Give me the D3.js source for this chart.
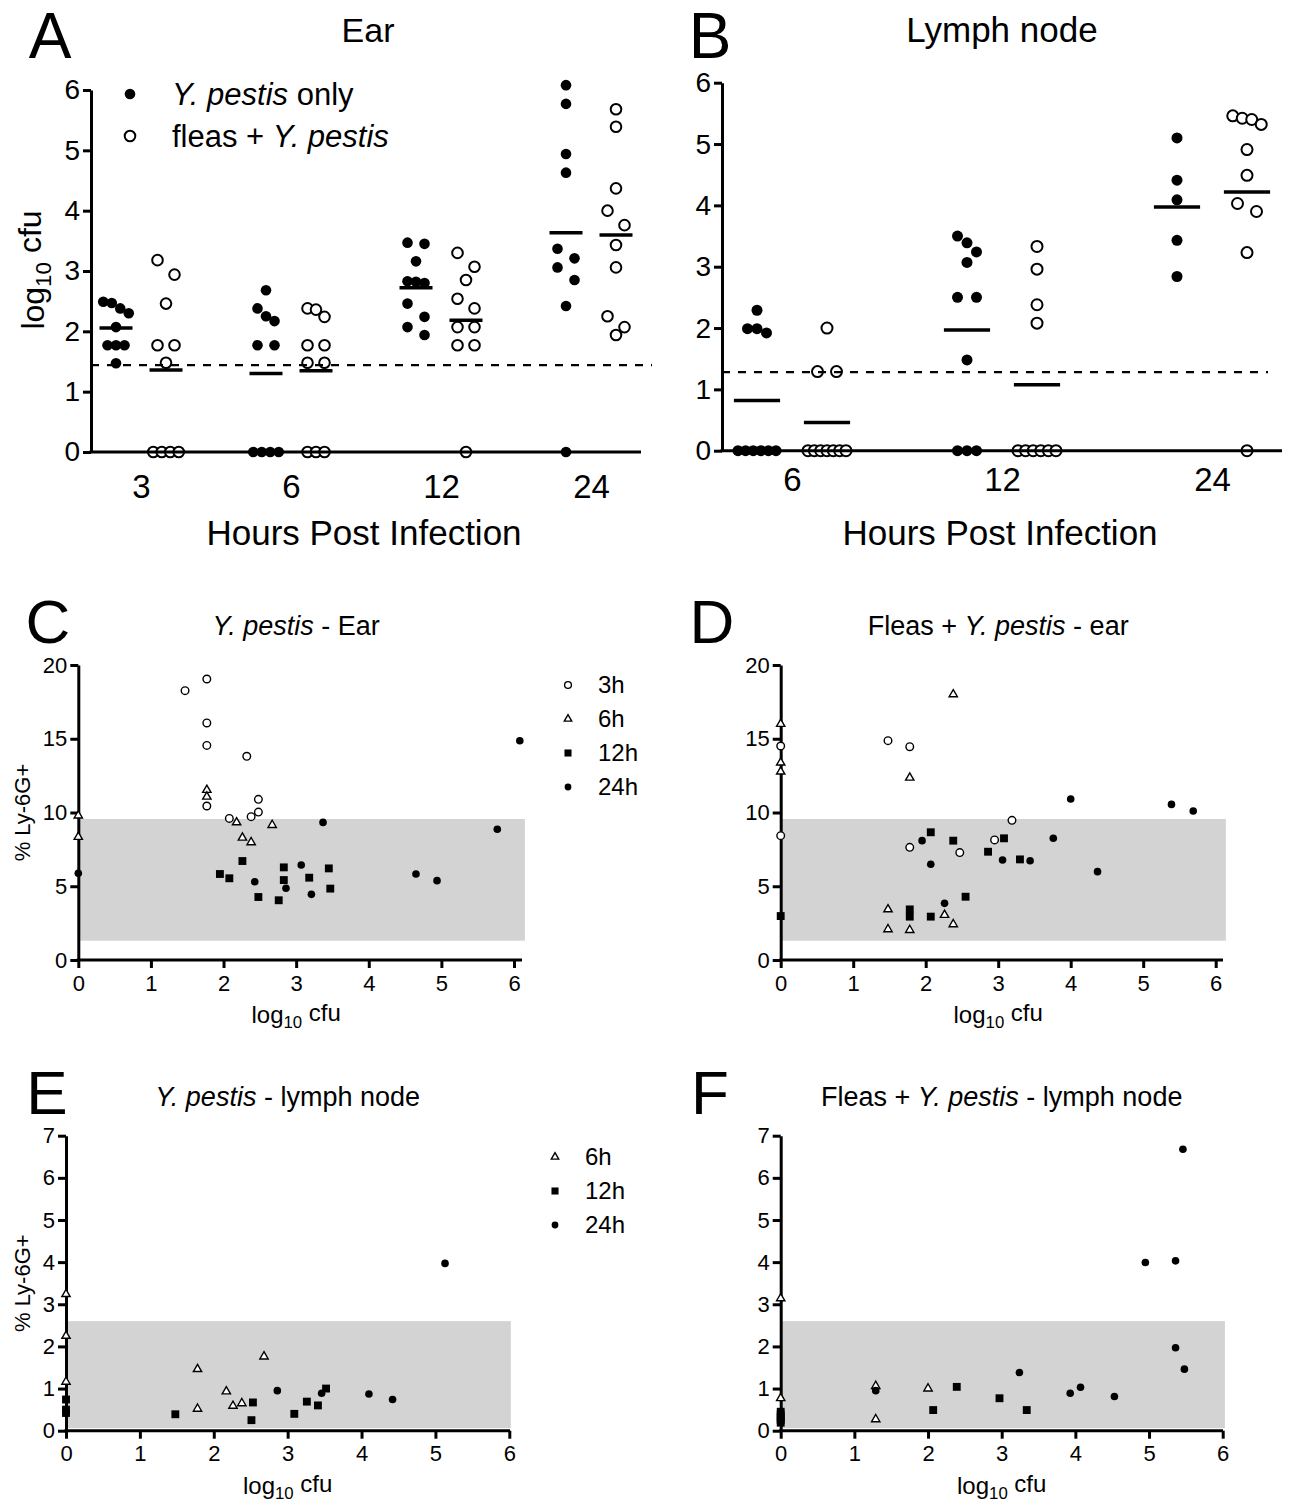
<!DOCTYPE html>
<html lang="en">
<head>
<meta charset="UTF-8" />
<title>Y. pestis ear and lymph node</title>
<style>
  body { margin: 0; background: #fff; }
  svg { font-family: "Liberation Sans", Arial, sans-serif; }
</style>
</head>
<body>
<svg id="fig" width="1289" height="1503"></svg>
<script src="https://d3js.org/d3.v7.min.js"></script>
<script>
// ---------- data ----------
const earHours = ["3", "6", "12", "24"];
const lnHours = ["6", "12", "24"];

// log10 cfu per mouse, one array per time point
const earPestisOnly = [
  [2.49, 2.47, 2.38, 2.30, 2.07, 1.77, 1.77, 1.77, 1.47],
  [2.68, 2.38, 2.25, 2.17, 1.77, 1.77, 0, 0, 0, 0],
  [3.47, 3.45, 3.16, 2.83, 2.82, 2.80, 2.46, 2.24, 2.07, 1.94],
  [6.08, 5.77, 4.94, 4.63, 3.37, 3.21, 3.06, 2.85, 2.42, 0]
];
const earFleas = [
  [3.18, 2.94, 2.46, 1.77, 1.77, 1.48, 0, 0, 0, 0],
  [2.38, 2.36, 2.24, 1.77, 1.77, 1.48, 1.48, 0, 0, 0],
  [3.30, 3.07, 2.85, 2.54, 2.38, 2.07, 2.07, 1.77, 1.77, 0],
  [5.68, 5.39, 4.37, 4.00, 3.76, 3.43, 3.06, 2.25, 2.07, 1.94]
];
const lnPestisOnly = [
  [2.29, 1.99, 1.99, 1.92, 0, 0, 0, 0, 0, 0],
  [3.50, 3.39, 3.24, 3.07, 2.50, 2.50, 1.48, 0, 0, 0],
  [5.10, 4.41, 4.09, 3.43, 2.84]
];
const lnFleas = [
  [2.00, 1.29, 1.29, 0, 0, 0, 0, 0, 0, 0],
  [3.33, 2.96, 2.38, 2.08, 0, 0, 0, 0, 0, 0],
  [5.46, 5.42, 5.40, 5.32, 4.91, 4.49, 4.03, 3.90, 3.23, 0]
];
const earLimit = 1.44;
const lnLimit = 1.28;

// [log10 cfu, % Ly-6G+]
const cPts3h = [[1.47, 18.26], [1.77, 19.05], [1.77, 16.07], [1.77, 14.55], [1.77, 10.44], [2.32, 13.81], [2.48, 10.89], [2.48, 10.03], [2.38, 9.72], [2.08, 9.60]];
const cPts6h = [[0, 9.79], [0, 8.34], [1.77, 11.53], [1.77, 11.07], [2.18, 9.33], [2.26, 8.29], [2.38, 7.98], [2.67, 9.15]];
const cPts12h = [[1.95, 5.83], [2.08, 5.54], [2.26, 6.71], [2.48, 4.27], [2.76, 4.05], [2.83, 6.28], [2.83, 5.42], [3.18, 5.58], [3.45, 6.21], [3.47, 4.84]];
const cPts24h = [[0, 5.88], [2.43, 5.31], [2.86, 4.86], [3.07, 6.44], [3.21, 4.45], [3.37, 9.33], [4.65, 5.83], [4.94, 5.38], [5.77, 8.86], [6.08, 14.86]];

const dPts3h = [[0, 14.51], [0, 8.43], [1.48, 14.87], [1.78, 14.46], [1.78, 7.64], [2.47, 7.28], [2.95, 8.14], [3.19, 9.47]];
const dPts6h = [[0, 16.0], [0, 13.38], [0, 12.77], [2.38, 18.01], [1.78, 12.36], [1.48, 3.43], [1.48, 2.08], [1.78, 2.03], [2.26, 3.05], [2.38, 2.42]];
const dPts12h = [[0, 2.98], [1.78, 3.43], [1.78, 2.94], [2.07, 2.94], [2.07, 8.66], [2.38, 8.09], [2.55, 4.29], [2.86, 7.34], [3.08, 8.25], [3.30, 6.82]];
const dPts24h = [[1.95, 8.09], [2.07, 6.49], [2.26, 3.84], [3.06, 6.78], [3.44, 6.73], [3.76, 8.25], [4.00, 10.92], [4.37, 5.99], [5.39, 10.55], [5.69, 10.10]];

const ePts6h = [[0, 3.24], [0, 2.25], [0, 1.16], [1.78, 1.46], [1.78, 0.52], [2.17, 0.93], [2.26, 0.59], [2.38, 0.65], [2.68, 1.76]];
const ePts12h = [[0, 0.74], [0, 0.50], [0, 0.42], [1.48, 0.39], [2.51, 0.25], [2.53, 0.67], [3.09, 0.40], [3.26, 0.69], [3.41, 0.60], [3.52, 1.00]];
const ePts24h = [[2.86, 0.95], [3.46, 0.89], [4.10, 0.87], [4.42, 0.74], [5.13, 3.97]];

const fPts6h = [[0, 3.14], [0, 0.77], [1.29, 1.06], [1.29, 0.27], [2.0, 1.0]];
const fPts12h = [[0, 0.45], [0, 0.38], [0, 0.31], [0, 0.25], [0, 0.19], [2.07, 0.49], [2.39, 1.04], [2.97, 0.77], [3.34, 0.49]];
const fPts24h = [[1.29, 0.95], [3.24, 1.38], [3.93, 0.89], [4.07, 1.03], [4.53, 0.81], [4.95, 3.99], [5.36, 4.03], [5.46, 6.68], [5.36, 1.97], [5.48, 1.46]];

const earBand = [1.31, 9.56];
const lnBand = [0.06, 2.60];

// ---------- helpers ----------
const svg = d3.select("#fig");

// parts: {t, it, sub}
function rich(sel, parts) {
  let down = false;
  parts.forEach(p => {
    const ts = sel.append("tspan").text(p.t);
    if (p.it) ts.attr("font-style", "italic");
    if (p.sub) { ts.attr("font-size", "70%").attr("dy", "0.3em"); down = true; }
    else if (down) { ts.attr("dy", "-0.3em"); down = false; }
  });
  return sel;
}

function label(x, y, parts, size, rotate) {
  const t = svg.append("text")
    .attr("text-anchor", "middle")
    .attr("dy", "0.35em")
    .attr("font-size", size)
    .attr("transform", `translate(${x},${y})` + (rotate ? " rotate(-90)" : ""));
  return rich(t, parts);
}

// prism-like spread: points close in height share a row, rows are centred
function swarm(ys, cd, rowH, maxW) {
  const order = d3.range(ys.length).sort((a, b) => ys[a] - ys[b]);
  const off = [];
  let row = [];
  const flush = () => {
    const n = row.length;
    if (n === 1) off[row[0]] = 0;
    else if (n === 2) { off[row[0]] = -cd; off[row[1]] = cd; }
    else {
      const s = Math.min(cd, maxW / (n - 1));
      row.forEach((i, k) => { off[i] = (k - (n - 1) / 2) * s; });
    }
    row = [];
  };
  for (const i of order) {
    if (row.length && ys[i] - ys[row[0]] >= rowH) flush();
    row.push(i);
  }
  flush();
  return off;
}

function styleAxis(g, fs) {
  g.selectAll("path, line").attr("stroke", "#000").attr("stroke-width", 3);
  g.selectAll("text").attr("font-size", fs).attr("fill", "#000").attr("font-family", null);
}

// ---------- dot plots (A, B) ----------
function dotPanel(o) {
  const nSlots = o.hours.length * 3 - 1;
  const x = d3.scalePoint().domain(d3.range(nSlots)).range([o.x0, o.x1]).padding(0.5);
  const step = x.step();
  const y = d3.scaleLinear().domain([0, 6]).range([o.yBot, o.yTop]);
  const cat = d3.scalePoint().domain(o.hours)
    .range([(x(0) + x(1)) / 2, (x(nSlots - 2) + x(nSlots - 1)) / 2]);
  const g = svg.append("g");

  [o.only, o.fleas].forEach((series, s) => {
    series.forEach((vals, gi) => {
      const cx = x(gi * 3 + s);
      const ys = vals.map(v => y(v));
      const off = swarm(ys, o.cd, 16, o.maxW);
      g.selectAll(null).data(vals).enter().append("circle")
        .attr("cx", (v, i) => cx + off[i])
        .attr("cy", v => y(v))
        .attr("r", o.r)
        .attr("fill", s === 0 ? "#000" : "#fff")
        .attr("stroke", "#000")
        .attr("stroke-width", s === 0 ? 0 : 2);
      g.append("line")
        .attr("x1", cx - step * 0.33).attr("x2", cx + step * 0.33)
        .attr("y1", y(d3.mean(vals))).attr("y2", y(d3.mean(vals)))
        .attr("stroke", "#000").attr("stroke-width", 3.5);
    });
  });

  g.append("line")
    .attr("x1", o.x0).attr("x2", o.dashEnd)
    .attr("y1", y(o.limit)).attr("y2", y(o.limit))
    .attr("stroke", "#000").attr("stroke-width", 2.2)
    .attr("stroke-dasharray", "8,8");

  // x axis: line plus category labels
  g.append("line").attr("x1", o.x0 - 1.5).attr("x2", o.x1)
    .attr("y1", o.yBot).attr("y2", o.yBot)
    .attr("stroke", "#000").attr("stroke-width", 3);
  const xa = g.append("g").attr("transform", `translate(0,${o.yBot})`)
    .call(d3.axisBottom(cat).tickSize(0).tickPadding(o.xPad));
  xa.select(".domain").remove();
  styleAxis(xa, 33);

  const ya = g.append("g").attr("transform", `translate(${o.x0},0)`)
    .call(d3.axisLeft(y).ticks(6).tickSize(8).tickSizeOuter(0).tickPadding(3));
  styleAxis(ya, 28);

  label(o.x0 + (o.x1 - o.x0) / 2 - 2, 533, [{ t: "Hours Post Infection" }], 35);
}

dotPanel({
  hours: earHours, only: earPestisOnly, fleas: earFleas,
  x0: 91, x1: 641, yBot: 452, yTop: 90, limit: earLimit,
  dashEnd: 652, cd: 8.5, maxW: 26, r: 5.3, xPad: 23
});
dotPanel({
  hours: lnHours, only: lnPestisOnly, fleas: lnFleas,
  x0: 722, x1: 1282, yBot: 450.7, yTop: 82.7, limit: lnLimit,
  dashEnd: 1268, cd: 9.5, maxW: 38, r: 5.5, xPad: 17
});

label(50, 36, [{ t: "A" }], 64);
label(368, 30, [{ t: "Ear" }], 34);
label(710, 36, [{ t: "B" }], 64);
label(1002, 30, [{ t: "Lymph node" }], 35);
label(33, 270, [{ t: "log" }, { t: "10", sub: true }, { t: " cfu" }], 32, true);

// legend A
svg.append("circle").attr("cx", 130).attr("cy", 94).attr("r", 5.3).attr("fill", "#000");
svg.append("circle").attr("cx", 130).attr("cy", 136).attr("r", 5.3)
  .attr("fill", "#fff").attr("stroke", "#000").attr("stroke-width", 2);
rich(svg.append("text").attr("x", 172).attr("y", 94).attr("dy", "0.35em").attr("font-size", 31),
  [{ t: "Y. pestis", it: true }, { t: " only" }]);
rich(svg.append("text").attr("x", 172).attr("y", 136).attr("dy", "0.35em").attr("font-size", 31),
  [{ t: "fleas + " }, { t: "Y. pestis", it: true }]);

// ---------- scatter panels (C-F) ----------
function drawSym(g, shape, cx, cy, s) {
  if (shape === "circle" || shape === "dot") {
    g.append("circle").attr("cx", cx).attr("cy", cy).attr("r", s.r)
      .attr("fill", shape === "dot" ? "#000" : "#fff")
      .attr("stroke", "#000").attr("stroke-width", shape === "dot" ? 0 : 1.4);
  } else if (shape === "tri") {
    g.append("path").attr("d", d3.symbol(d3.symbolTriangle, s.tri)())
      .attr("transform", `translate(${cx},${cy})`)
      .attr("fill", "#fff").attr("stroke", "#000").attr("stroke-width", 1.4);
  } else {
    g.append("path").attr("d", d3.symbol(d3.symbolSquare, s.sq)())
      .attr("transform", `translate(${cx},${cy})`).attr("fill", "#000");
  }
}

function scatterPanel(o) {
  const x = d3.scaleLinear().domain([0, 6]).range([o.x0, o.x6]);
  const y = d3.scaleLinear().domain([0, o.yMax]).range([o.yBot, o.yTop]);
  const g = svg.append("g");
  const sz = { r: 3.8, tri: 30, sq: 62 };

  g.append("rect")
    .attr("x", x(0)).attr("width", x(o.bandX) - x(0))
    .attr("y", y(o.band[1])).attr("height", y(o.band[0]) - y(o.band[1]))
    .attr("fill", "#d3d3d3");

  const xa = g.append("g").attr("transform", `translate(0,${o.yBot})`)
    .call(d3.axisBottom(x).ticks(6).tickSize(8).tickSizeOuter(0).tickPadding(7));
  xa.select(".domain").remove();
  styleAxis(xa, 22);
  g.append("line").attr("x1", o.x0 - 1.5).attr("x2", o.axisEnd)
    .attr("y1", o.yBot).attr("y2", o.yBot).attr("stroke", "#000").attr("stroke-width", 3);

  const ya = g.append("g").attr("transform", `translate(${o.x0},0)`)
    .call(d3.axisLeft(y).tickValues(o.yTicks).tickFormat(d3.format("d"))
      .tickSize(8).tickSizeOuter(0).tickPadding(3));
  styleAxis(ya, 22);

  o.series.forEach(sr => {
    sr.pts.forEach(p => drawSym(g, sr.shape, x(p[0]), y(p[1]), sz));
  });

  label((o.x0 + o.x6) / 2, o.yBot + 55, [{ t: "log" }, { t: "10", sub: true }, { t: " cfu" }], 24);
  label((o.x0 + o.x6) / 2, o.titleY, o.title, 27);
  label(o.letterX, o.titleY - 5, [{ t: o.letter }], 62);
  if (o.yLabel) label(22, (o.yBot + o.yTop) / 2, [{ t: "% Ly-6G+" }], 22, true);

  if (o.legend) {
    o.legend.forEach((it, i) => {
      const ly = o.legendY + i * 34;
      drawSym(svg, it.shape, o.legendX, ly, { r: 3.4, tri: 24, sq: 50 });
      svg.append("text").attr("x", o.legendX + 30).attr("y", ly).attr("dy", "0.35em")
        .attr("font-size", 24).text(it.name);
    });
  }
}

const earLegend = [
  { shape: "circle", name: "3h" }, { shape: "tri", name: "6h" },
  { shape: "sq", name: "12h" }, { shape: "dot", name: "24h" }
];

scatterPanel({
  x0: 78.3, x6: 514, axisEnd: 522, yBot: 960, yTop: 665, yMax: 20, yTicks: [0, 5, 10, 15, 20],
  band: earBand, bandX: 6.15, letter: "C", letterX: 48, titleY: 626, yLabel: true,
  title: [{ t: "Y. pestis", it: true }, { t: " - Ear" }],
  series: [
    { pts: cPts3h, shape: "circle" }, { pts: cPts6h, shape: "tri" },
    { pts: cPts12h, shape: "sq" }, { pts: cPts24h, shape: "dot" }
  ],
  legend: earLegend, legendX: 568, legendY: 685
});

scatterPanel({
  x0: 780.7, x6: 1215.7, axisEnd: 1223, yBot: 960, yTop: 665, yMax: 20, yTicks: [0, 5, 10, 15, 20],
  band: earBand, bandX: 6.14, letter: "D", letterX: 712, titleY: 626, yLabel: false,
  title: [{ t: "Fleas + " }, { t: "Y. pestis", it: true }, { t: " - ear" }],
  series: [
    { pts: dPts3h, shape: "circle" }, { pts: dPts6h, shape: "tri" },
    { pts: dPts12h, shape: "sq" }, { pts: dPts24h, shape: "dot" }
  ]
});

scatterPanel({
  x0: 66, x6: 509.3, axisEnd: 510, yBot: 1430.7, yTop: 1135.7, yMax: 7, yTicks: d3.range(8),
  band: lnBand, bandX: 6.02, letter: "E", letterX: 47, titleY: 1097, yLabel: true,
  title: [{ t: "Y. pestis", it: true }, { t: " - lymph node" }],
  series: [
    { pts: ePts6h, shape: "tri" }, { pts: ePts12h, shape: "sq" }, { pts: ePts24h, shape: "dot" }
  ],
  legend: earLegend.slice(1), legendX: 555, legendY: 1157
});

scatterPanel({
  x0: 780.7, x6: 1222.7, axisEnd: 1223, yBot: 1430.7, yTop: 1135.7, yMax: 7, yTicks: d3.range(8),
  band: lnBand, bandX: 6.03, letter: "F", letterX: 710, titleY: 1097, yLabel: false,
  title: [{ t: "Fleas + " }, { t: "Y. pestis", it: true }, { t: " - lymph node" }],
  series: [
    { pts: fPts6h, shape: "tri" }, { pts: fPts12h, shape: "sq" }, { pts: fPts24h, shape: "dot" }
  ]
});
</script>
</body>
</html>
